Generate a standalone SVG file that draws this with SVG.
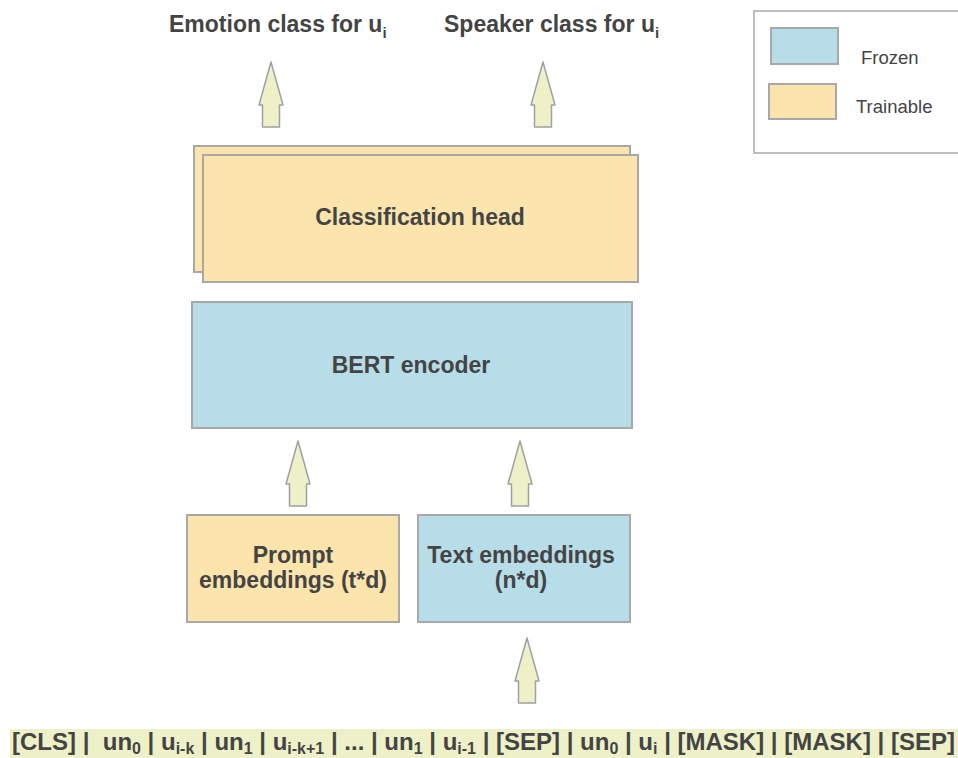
<svg xmlns="http://www.w3.org/2000/svg" width="958" height="758" viewBox="0 0 958 758">
<defs>
<style>
.t{font-family:"Liberation Sans",Arial,sans-serif;fill:#444444}
.b{font-weight:bold}
.yel{fill:#fbe5ad;stroke:#a8a8a8;stroke-width:2}
.blu{fill:#b7dde8;stroke:#a8a8a8;stroke-width:2}
.arr{fill:#eef1c8;stroke:#a0a0a0;stroke-width:1.5;stroke-linejoin:round}
</style>
<path id="up" d="M0,0 L12,43 L8.5,43 L8.5,65 L-8.5,65 L-8.5,43 L-12,43 Z"/>
</defs>
<rect width="958" height="758" fill="#ffffff"/>

<g id="label-emotion">
<text class="t b" x="169" y="32" font-size="23">Emotion class for u<tspan font-size="15" dy="6">i</tspan></text>
</g>
<g id="label-speaker">
<text class="t b" x="444" y="32" font-size="23">Speaker class for u<tspan font-size="15" dy="6">i</tspan></text>
</g>

<g id="legend">
<rect x="754" y="11" width="215" height="142" fill="#ffffff" stroke="#aaaaaa" stroke-width="1.5"/>
<rect class="blu" x="771" y="28" width="67" height="36"/>
<rect class="yel" x="769" y="84" width="67" height="35"/>
<text class="t" x="861" y="64" font-size="18.5">Frozen</text>
<text class="t" x="856" y="113" font-size="18.5">Trainable</text>
</g>

<g id="classification-head">
<rect class="yel" x="194" y="146" width="436" height="126"/>
<rect class="yel" x="203" y="155" width="435" height="127"/>
<text class="t b" x="420" y="225" font-size="23" text-anchor="middle">Classification head</text>
</g>

<g id="bert-encoder">
<rect class="blu" x="192" y="302" width="440" height="126"/>
<text class="t b" x="411" y="373" font-size="23" text-anchor="middle">BERT encoder</text>
</g>

<g id="prompt-embeddings">
<rect class="yel" x="187" y="515" width="212" height="107"/>
<text class="t b" x="293" y="563" font-size="23" text-anchor="middle">Prompt</text>
<text class="t b" x="293" y="588" font-size="23" text-anchor="middle">embeddings (t*d)</text>
</g>

<g id="text-embeddings">
<rect class="blu" x="418" y="515" width="212" height="107"/>
<text class="t b" x="521" y="563" font-size="23" text-anchor="middle">Text embeddings</text>
<text class="t b" x="521" y="588" font-size="23" text-anchor="middle">(n*d)</text>
</g>

<g id="input-sequence">
<rect x="10" y="729" width="960" height="35" fill="#eef1c8"/>
<text class="t b" x="12" y="750" font-size="24" textLength="943" lengthAdjust="spacing">[CLS] |&#160; un<tspan font-size="16" dy="4">0</tspan><tspan dy="-4"> | u</tspan><tspan font-size="16" dy="4">i-k</tspan><tspan dy="-4"> | un</tspan><tspan font-size="16" dy="4">1</tspan><tspan dy="-4"> | u</tspan><tspan font-size="16" dy="4">i-k+1</tspan><tspan dy="-4"> | ... | un</tspan><tspan font-size="16" dy="4">1</tspan><tspan dy="-4"> | u</tspan><tspan font-size="16" dy="4">i-1</tspan><tspan dy="-4"> | [SEP] | un</tspan><tspan font-size="16" dy="4">0</tspan><tspan dy="-4"> | u</tspan><tspan font-size="16" dy="4">i</tspan><tspan dy="-4"> | [MASK] | [MASK] | [SEP]</tspan></text>
</g>

<g id="connectors">
<use href="#up" class="arr" x="271" y="62"/>
<use href="#up" class="arr" x="543" y="62"/>
<use href="#up" class="arr" x="298" y="441"/>
<use href="#up" class="arr" x="520" y="441"/>
<use href="#up" class="arr" x="527" y="638"/>
</g>
</svg>
